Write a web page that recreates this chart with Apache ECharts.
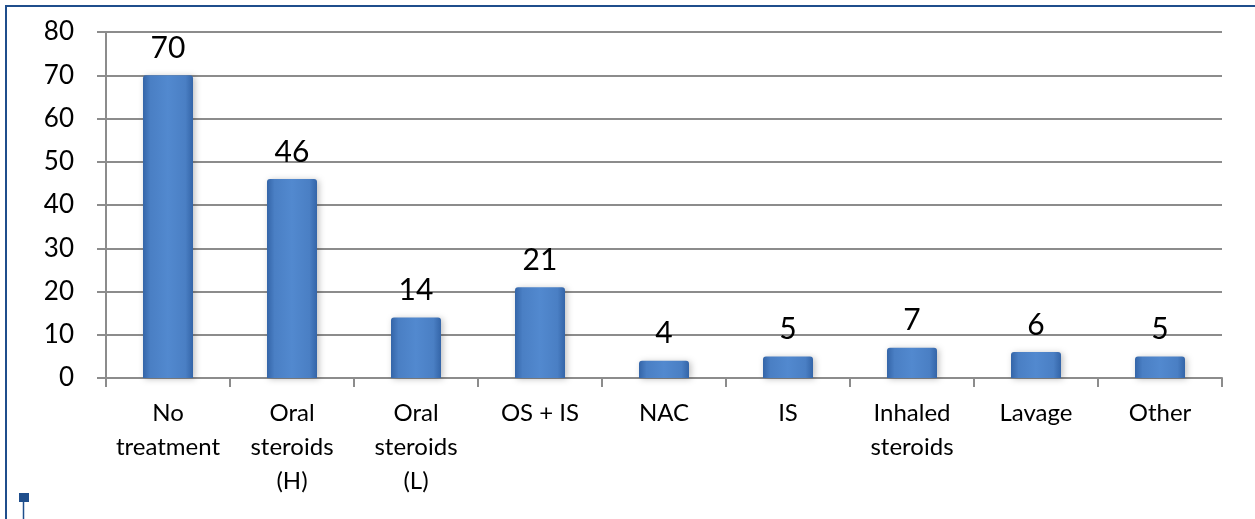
<!DOCTYPE html>
<html><head><meta charset="utf-8">
<script src="https://cdn.jsdelivr.net/npm/echarts@6/dist/echarts.min.js"></script>
<style>html,body{margin:0;padding:0;background:#fff}#c{width:1255px;height:519px}</style>
</head><body><div id="c"></div>
<script>
const categories = ['No\ntreatment', 'Oral\nsteroids\n(H)', 'Oral\nsteroids\n(L)', 'OS + IS', 'NAC', 'IS', 'Inhaled\nsteroids', 'Lavage', 'Other'];
const values = [70, 46, 14, 21, 4, 5, 7, 6, 5];
const yTicks = [0, 10, 20, 30, 40, 50, 60, 70, 80];

const chart = echarts.init(document.getElementById('c'), null, {renderer: 'canvas'});
const font = 'Lato, "Open Sans", sans-serif';
chart.setOption({
  animation: false,
  grid: {left: 106, right: 33, top: 32, bottom: 141},
  xAxis: {
    type: 'category', data: categories,
    axisLine: {lineStyle: {color: '#8c8c8c', width: 2}},
    axisTick: {show: true, alignWithLabel: false, length: 9, lineStyle: {color: '#8c8c8c', width: 2}},
    axisLabel: {color: '#000', fontSize: 24, fontFamily: font, lineHeight: 34, margin: 18, interval: 0}
  },
  yAxis: {
    type: 'value', min: yTicks[0], max: yTicks[yTicks.length - 1], interval: 10,
    axisLine: {show: true, lineStyle: {color: '#8c8c8c', width: 2}},
    axisTick: {show: true, length: 9, lineStyle: {color: '#8c8c8c', width: 2}},
    splitLine: {lineStyle: {color: '#8c8c8c', width: 2}},
    axisLabel: {color: '#000', fontSize: 26, fontFamily: font, margin: 32}
  },
  series: [{
    type: 'bar', data: values, barWidth: 50,
    itemStyle: {
      color: new echarts.graphic.LinearGradient(0, 0, 1, 0, [
        {offset: 0, color: '#3465a8'},
        {offset: 0.15, color: '#4a7fc4'},
        {offset: 0.5, color: '#5289cf'},
        {offset: 0.85, color: '#4a7fc4'},
        {offset: 1, color: '#3465a8'}
      ]),
      borderRadius: [3, 3, 0, 0],
      shadowColor: 'rgba(0,0,0,0.25)', shadowBlur: 6, shadowOffsetX: 2, shadowOffsetY: 1
    },
    label: {show: true, position: 'top', distance: 12, color: '#000', fontSize: 30, fontFamily: font}
  }],
  graphic: [
    {type: 'rect', shape: {x: 6, y: 6, width: 1270, height: 600}, style: {fill: 'none', stroke: '#1f4e8c', lineWidth: 2}, silent: true},
    {type: 'rect', shape: {x: 19, y: 493, width: 10, height: 9}, style: {fill: '#1f4e8c'}, silent: true},
    {type: 'line', shape: {x1: 23.5, y1: 502, x2: 23.5, y2: 519}, style: {stroke: '#1f4e8c', lineWidth: 1.5}, silent: true}
  ]
});
</script></body></html>
